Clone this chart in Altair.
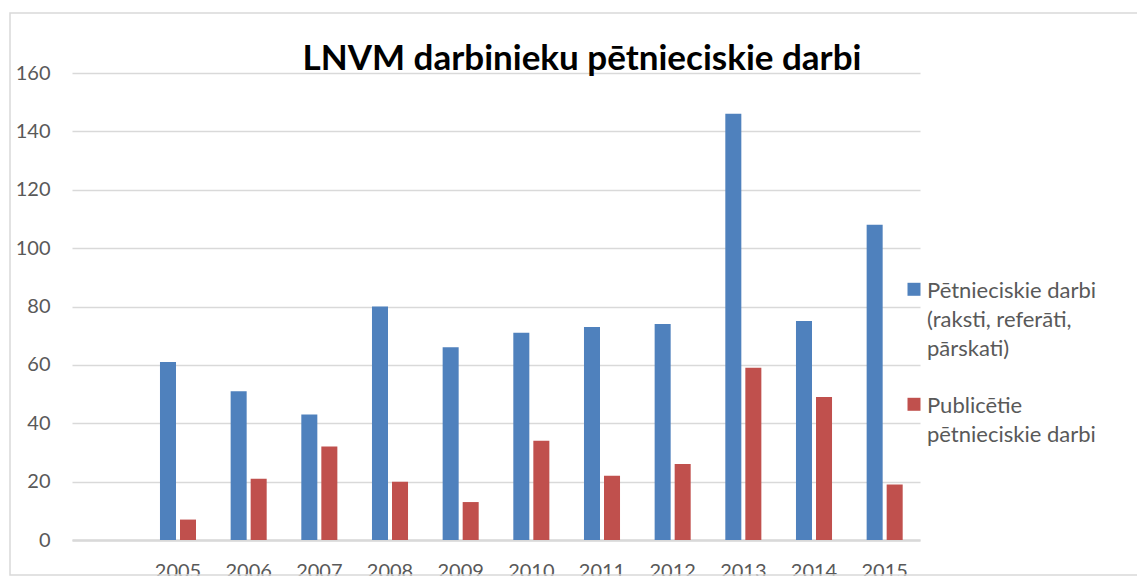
import json
import altair as alt
import pandas as pd

# ---- data ----
categories = [" ", "2005", "2006", "2007", "2008", "2009", "2010",
              "2011", "2012", "2013", "2014", "2015"]
years = ["2005", "2006", "2007", "2008", "2009", "2010",
         "2011", "2012", "2013", "2014", "2015"]
series_names = ["Pētnieciskie darbi (raksti, referāti, pārskati)",
                "Publicētie pētnieciskie darbi"]
legend_lines = [["Pētnieciskie darbi", "(raksti, referāti,", "pārskati)"],
                ["Publicētie", "pētnieciskie darbi"]]
research = [61, 51, 43, 80, 66, 71, 73, 74, 146, 75, 108]
published = [7, 21, 32, 20, 13, 34, 22, 26, 59, 49, 19]
colors = ["#4F81BD", "#C0504D"]
y_ticks = [0, 20, 40, 60, 80, 100, 120, 140, 160]
title_text = "LNVM darbinieku pētnieciskie darbi"

rows = []
for y, a, b in zip(years, research, published):
    rows.append({"year": y, "series": series_names[0], "value": a})
    rows.append({"year": y, "series": series_names[1], "value": b})
df = pd.DataFrame(rows)

label_expr = "datum.label == {} ? {} : {}".format(
    json.dumps(series_names[1]), json.dumps(legend_lines[1]), json.dumps(legend_lines[0]))

FONT = "Lato"
GRAY = "#595959"
GRID = "#D9D9D9"

bars = alt.Chart(df).mark_bar().encode(
    x=alt.X("year:N", scale=alt.Scale(domain=categories, paddingInner=0.49, paddingOuter=0.245),
            axis=alt.Axis(title=None, labelAngle=0, ticks=False, tickSize=0, labelPadding=21,
                          labelBaseline="top", domainColor=GRID, domainWidth=2.5,
                          labelColor=GRAY, labelFont=FONT, labelFontSize=20, grid=False)),
    xOffset=alt.XOffset("series:N", sort=series_names,
                        scale=alt.Scale(paddingInner=0.2, paddingOuter=0)),
    y=alt.Y("value:Q", scale=alt.Scale(domain=[0, 160], nice=False),
            axis=alt.Axis(title=None, values=y_ticks, ticks=False, tickSize=0, domain=False,
                          labelPadding=22, gridColor=GRID, gridWidth=1.3,
                          labelColor=GRAY, labelFont=FONT, labelFontSize=20)),
    color=alt.Color("series:N", sort=series_names,
                    scale=alt.Scale(domain=series_names, range=colors),
                    legend=alt.Legend(title=None, orient="none", legendX=831, legendY=214,
                                      symbolType="M-1,-2.34H1V-0.34H-1Z", symbolSize=169,
                                      symbolStrokeWidth=0, labelBaseline="alphabetic",
                                      labelExpr=label_expr, labelLimit=400, labelOffset=2,
                                      labelFont=FONT, labelFontSize=22, labelColor=GRAY,
                                      rowPadding=35, padding=0)),
)

frame = alt.Chart(alt.Data(values=[{}])).mark_rect(
    fillOpacity=0, stroke=GRID, strokeWidth=1.5
).encode(x=alt.value(-62), x2=alt.value(1200), y=alt.value(-60), y2=alt.value(502))

title = alt.Chart(alt.Data(values=[{"t": title_text}])).mark_text(
    font=FONT, fontSize=35, fontWeight="bold", color="#000000",
    align="center", baseline="alphabetic"
).encode(text="t:N", x=alt.value(510), y=alt.value(-3.5))

chart = alt.layer(frame, bars, title).properties(
    width=848, height=467,
    autosize=alt.AutoSizeParams(type="none"),
    padding={"left": 64, "top": 65, "right": 217, "bottom": 36},
).configure(style={"guide-label": {"lineHeight": 29}}).configure_view(strokeOpacity=0)

chart.save("out.html", embed_options={"renderer": "svg", "actions": False})
